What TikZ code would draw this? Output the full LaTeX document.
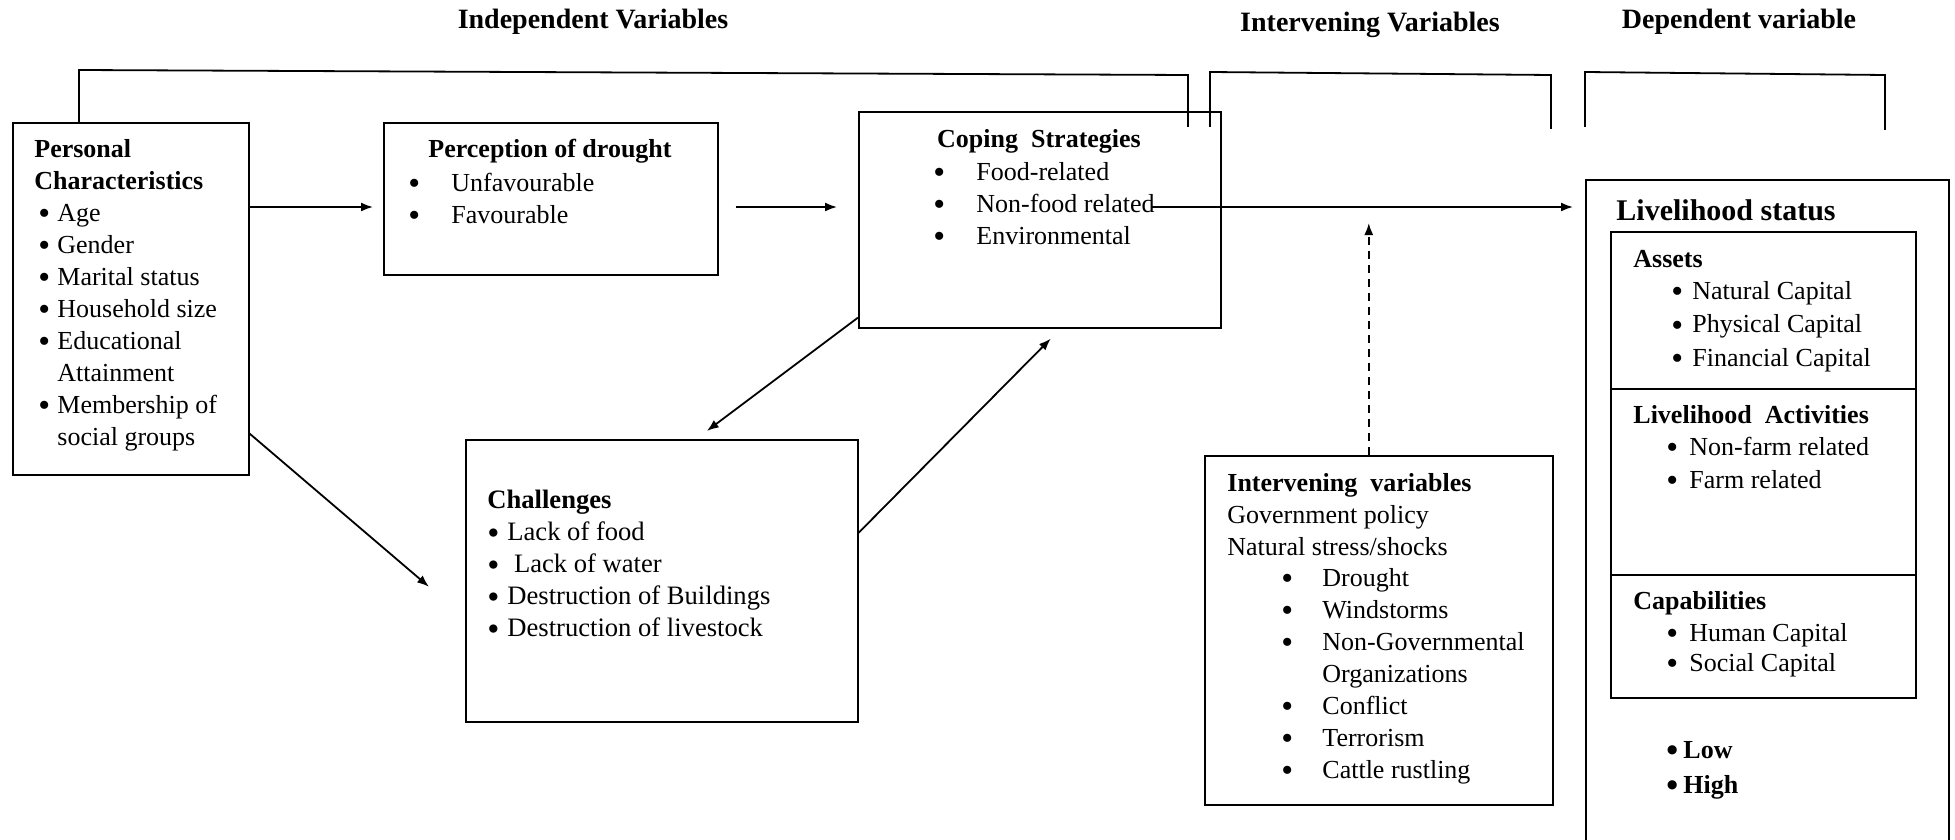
\documentclass[tikz,border=0pt]{standalone}
\usepackage{fontspec}
\setmainfont{Liberation Serif}
\usetikzlibrary{arrows.meta,positioning,calc}
\newcommand{\itm}[1][11pt]{\makebox[#1][l]{\raisebox{-1.6pt}{\scalebox{1.3}{\textbullet}}}}

\begin{document}
\begin{tikzpicture}[
    x=0.5pt, y=-0.5pt,
    box/.style={draw, line width=0.8pt, anchor=north west, inner sep=0pt},
    txt/.style={anchor=north west, inner sep=0pt, align=left,
      font=\fontsize{13}{16}\selectfont},
    hd/.style={txt, font=\fontsize{13}{16}\selectfont\bfseries},
    title/.style={inner sep=0pt, font=\fontsize{14}{17}\selectfont\bfseries},
    arr/.style={line width=0.9pt, -{Latex[length=6pt,width=4.5pt]}},
    brk/.style={line width=0.9pt}
  ]
  \useasboundingbox (0,0) rectangle (1955,840);

  %% --- headings ---
  \node[title] (tind) at (593,22) {Independent Variables};
  \node[title] (tint) at (1370,25) {Intervening Variables};
  \node[title] (tdep) at (1739,22) {Dependent variable};

  %% --- boxes ---
  \node[box, minimum width=118pt, minimum height=176pt] (pers) at (12,122) {};
  \node[box, minimum width=167pt, minimum height=76pt] (perc) at (383,122) {};
  \node[box, minimum width=181pt, minimum height=108pt] (coping) at (858,111) {};
  \node[box, minimum width=196pt, minimum height=141pt] (chall) at (465,439) {};
  \node[box, minimum width=174pt, minimum height=174.5pt] (interv) at (1204,455) {};
  \node[box, minimum width=181.5pt, minimum height=350pt] (live) at (1585,179) {};
  \node[box, minimum width=152.5pt, minimum height=78.5pt] (assets) at (1610,231) {};
  \node[box, minimum width=152.5pt, minimum height=93pt] (activ) at (1610,388) {};
  \node[box, minimum width=152.5pt, minimum height=61.5pt] (capab) at (1610,574) {};

  %% --- box texts ---
  \node[hd] (perst) at (34,139) {Personal\\Characteristics};
  \node[txt] (persl) at (38,204)
    {\itm[9.5pt]Age\\ \itm[9.5pt]Gender\\ \itm[9.5pt]Marital status\\
     \itm[9.5pt]Household size\\ \itm[9.5pt]Educational\\ \hspace*{9.5pt}Attainment\\
     \itm[9.5pt]Membership of\\ \hspace*{9.5pt}social groups};

  \node[hd, anchor=north, align=center] (perct) at (550,139) {Perception\ of drought};
  \node[txt] (percl) at (408,173)
    {\itm[21.5pt]Unfavourable\\ \itm[21.5pt]Favourable};

  \node[hd, anchor=north, align=center] (copt) at (1039,129) {Coping\ \ Strategies};
  \node[txt] (copl) at (933,162)
    {\itm[21.5pt]Food-related\\ \itm[21.5pt]Non-food related\\ \itm[21.5pt]Environmental};

  \node[txt, font=\fontsize{13.3}{16}\selectfont] (challt) at (487,490)
    {\textbf{Challenges}\\ \itm[10pt]Lack of food\\ \itm[10pt]\ Lack of water\\
     \itm[10pt]Destruction of\ Buildings\\ \itm[10pt]Destruction of livestock};

  \node[txt] (intt) at (1227,473)
    {\textbf{Intervening\ \ variables}\\ Government policy\\ Natural stress/shocks};
  \node[txt] (intl) at (1281,568)
    {\itm[20.5pt]Drought\\ \itm[20.5pt]Windstorms\\ \itm[20.5pt]Non-Governmental\\
     \hspace*{20.5pt}Organizations\\ \itm[20.5pt]Conflict\\ \itm[20.5pt]Terrorism\\
     \itm[20.5pt]Cattle rustling};

  \node[txt, font=\fontsize{15}{18}\selectfont\bfseries] (livet) at (1616,199) {Livelihood status};
  \node[hd] (asst) at (1633,250) {Assets};
  \node[txt, font=\fontsize{13}{16.75}\selectfont] (assl) at (1671,281)
    {\itm[10.5pt]Natural Capital\\ \itm[10.5pt]Physical Capital\\ \itm[10.5pt]Financial Capital};
  \node[hd] (actt) at (1633,405) {Livelihood\ \ Activities};
  \node[txt, font=\fontsize{13}{16.5}\selectfont] (actl) at (1666,437)
    {\itm[11.5pt]Non-farm related\\ \itm[11.5pt]Farm related};
  \node[hd] (capt) at (1633,591) {Capabilities};
  \node[txt, font=\fontsize{13}{15}\selectfont] (capl) at (1666,623)
    {\itm[11.5pt]Human Capital\\ \itm[11.5pt]Social Capital};
  \node[txt, font=\fontsize{13}{17.5}\selectfont\bfseries] (level) at (1666,741)
    {\itm[8.5pt]Low\\ \itm[8.5pt]High};

  %% --- brackets ---
  \draw[brk] ($(pers.north west)+(67,0)$) -- (79,70) -- (1188,75) -- (1188,127);
  \draw[brk] (1210,127) -- (1210,72) -- (1551,75) -- (1551,129);
  \draw[brk] (1585,127) -- (1585,72) -- (1885,75) -- (1885,130);

  %% --- arrows ---
  \coordinate (mainrow) at (0,207);
  \draw[arr, shorten >=5pt] (pers.east |- mainrow) -- (perc.west |- mainrow);
  \draw[arr, shorten <=8.5pt, shorten >=10.5pt] (perc.east |- mainrow) -- (coping.west |- mainrow);
  \draw[arr, shorten >=6pt] ($(coping.east |- mainrow)+(-70,0)$) -- (live.west |- mainrow);
  \draw[arr] ($(coping.south west)+(0,-11)$) -- ($(chall.north)+(45,-8)$);
  \draw[arr] ($(chall.east)+(0,-48)$) -- ($(coping.south)+(11,10)$);
  \draw[arr] ($(pers.south east)+(0,-42)$) -- ($(chall.west)+(-36,6)$);
  \draw[arr, dashed, dash pattern=on 4pt off 3pt] ($(interv.north)+(-10,0)$) -- ++(0,-232);
\end{tikzpicture}
\end{document}
